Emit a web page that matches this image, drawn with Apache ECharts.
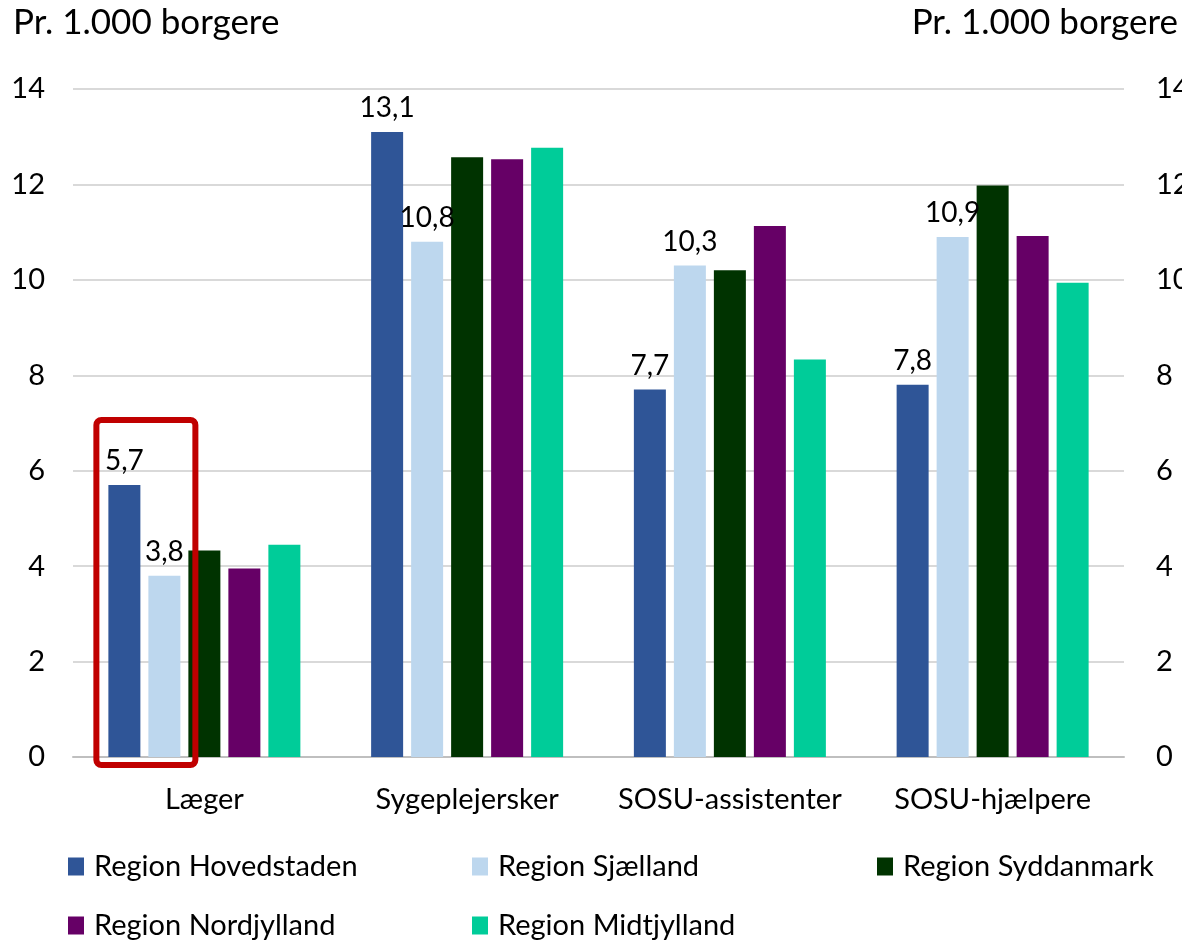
<!DOCTYPE html>
<html>
<head>
<meta charset="utf-8">
<script src="https://cdn.jsdelivr.net/npm/echarts@6/dist/echarts.min.js"></script>
<style>
  html, body { margin: 0; padding: 0; background: #fff; }
  #main { width: 1182px; height: 946px; }
</style>
</head>
<body>
<div id="main"></div>
<script>
var categories = ['Læger', 'Sygeplejersker', 'SOSU-assistenter', 'SOSU-hjælpere'];
var hovedstaden = [5.7, 13.1, 7.7, 7.8];
var sjaelland = [3.8, 10.8, 10.3, 10.9];
var syddanmark = [4.33, 12.57, 10.2, 11.98];
var nordjylland = [3.95, 12.53, 11.13, 10.92];
var midtjylland = [4.45, 12.77, 8.33, 9.94];
var yTicks = [0, 2, 4, 6, 8, 10, 12, 14];

var font = 'Lato';
var colors = ['#2F5597', '#BDD7EE', '#003300', '#660066', '#00CC99'];

function lbl(show) {
    return {
        show: show,
        position: 'top',
        distance: 10,
        color: '#000',
        fontFamily: font,
        fontSize: 28,
        formatter: function (p) { return String(p.value).replace('.', ','); }
    };
}

function bar(name, data, color, show) {
    return {
        name: name,
        type: 'bar',
        data: data,
        barWidth: 32,
        barGap: '25%',
        itemStyle: { color: color },
        label: lbl(show),
        emphasis: { disabled: true }
    };
}

function legend(names, left) {
    return {
        data: names,
        orient: 'vertical',
        left: left,
        top: 852,
        height: 94,
        itemGap: 30,
        itemWidth: 16,
        itemHeight: 18,
        icon: 'rect',
        padding: 0,
        textStyle: { fontFamily: font, fontSize: 29, color: '#000', padding: [0, 0, 0, 5] }
    };
}

var myChart = echarts.init(document.getElementById('main'));
var axisLabel = { color: '#000', fontFamily: font, fontSize: 29 };
var titleStyle = { fontFamily: font, fontSize: 35, fontWeight: 'normal', color: '#000' };

myChart.setOption({
    animation: false,
    title: [
        { text: 'Pr. 1.000 borgere', left: 8, top: 0, textStyle: titleStyle },
        { text: 'Pr. 1.000 borgere', right: -1, top: 0, textStyle: titleStyle }
    ],
    grid: { left: 73, right: 58, top: 89, bottom: 189, outerBoundsMode: 'none' },
    legend: [
        legend(['Region Hovedstaden', 'Region Nordjylland'], 68),
        legend(['Region Sjælland', 'Region Midtjylland'], 472),
        legend(['Region Syddanmark'], 877)
    ],
    xAxis: {
        type: 'category',
        data: categories,
        axisTick: { show: false },
        axisLine: { lineStyle: { color: '#BFBFBF', width: 2 } },
        axisLabel: Object.assign({ margin: 28, interval: 0, hideOverlap: false }, axisLabel)
    },
    yAxis: [
        {
            type: 'value', min: yTicks[0], max: yTicks[yTicks.length - 1], interval: 2,
            axisLabel: Object.assign({ margin: 28 }, axisLabel),
            splitLine: { lineStyle: { color: '#D9D9D9', width: 2 } }
        },
        {
            type: 'value', min: yTicks[0], max: yTicks[yTicks.length - 1], interval: 2, position: 'right',
            axisLabel: Object.assign({ margin: 32 }, axisLabel),
            splitLine: { show: false }
        }
    ],
    series: [
        bar('Region Hovedstaden', hovedstaden, colors[0], true),
        bar('Region Sjælland', sjaelland, colors[1], true),
        bar('Region Syddanmark', syddanmark, colors[2], false),
        bar('Region Nordjylland', nordjylland, colors[3], false),
        bar('Region Midtjylland', midtjylland, colors[4], false)
    ]
});

// red highlight box around the first two bars of "Læger"
var b0 = myChart.getModel().getSeriesByIndex(0).getData().getItemLayout(0);
var b1 = myChart.getModel().getSeriesByIndex(1).getData().getItemLayout(0);
var base = myChart.convertToPixel({ yAxisIndex: 0 }, 0);
var top0 = myChart.convertToPixel({ yAxisIndex: 0 }, hovedstaden[0]);
myChart.setOption({
    graphic: [{
        type: 'rect',
        shape: { x: b0.x - 12, y: top0 - 65, width: (b1.x + b1.width + 15) - (b0.x - 12), height: base + 8 - (top0 - 65), r: 5 },
        style: { fill: 'none', stroke: '#C00000', lineWidth: 6 },
        z: 100
    }]
});
</script>
</body>
</html>
